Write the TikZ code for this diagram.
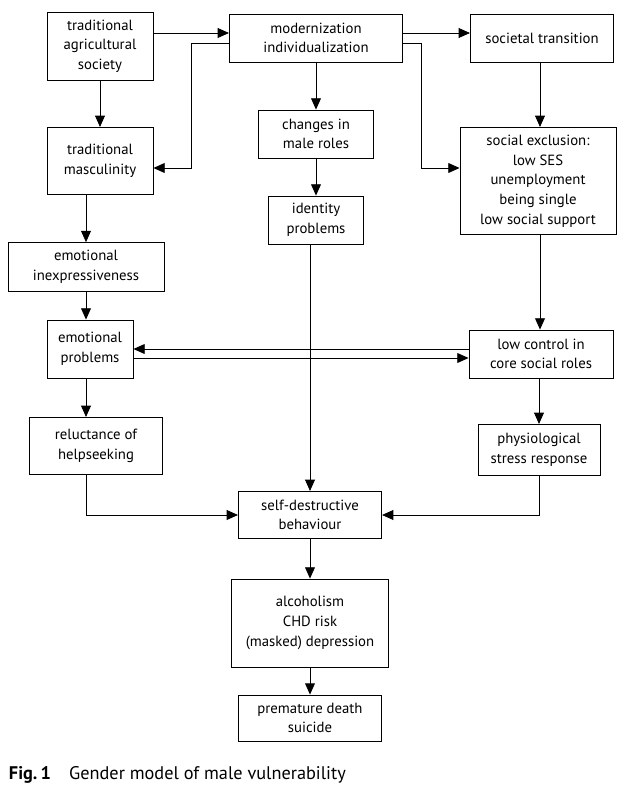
\documentclass[tikz,border=0pt]{standalone}
\usepackage{fontspec}
\setmainfont{PT Sans}
\usetikzlibrary{arrows.meta}
\begin{document}
\begin{tikzpicture}[
    x=0.025cm, y=-0.025cm,
    box/.style={rectangle, draw, line width=0.6pt, align=center, font=\fontsize{10.5}{14}\selectfont, inner sep=2pt},
    arrow/.style={-{Triangle[length=8pt, width=7pt]}, line width=0.6pt}
]
\useasboundingbox (0,0) rectangle (641,795);
% Top row
\node[box, minimum width=2.65cm, minimum height=1.7cm] (agri) at (100,46) {traditional\\agricultural\\society};
\node[box, minimum width=4.33cm, minimum height=1.2cm] (modern) at (316,38) {modernization\\individualization};
\node[box, minimum width=3.58cm, minimum height=1.2cm] (trans) at (542,38) {societal transition};

% Second level
\node[box, minimum width=2.88cm, minimum height=1.2cm] (roles) at (316,134) {changes in\\male roles};
\node[box, minimum width=2.65cm, minimum height=1.68cm] (masc) at (100,161) {traditional\\masculinity};
\node[box, minimum width=3.9cm, minimum height=2.68cm] (excl) at (538,181) {social exclusion:\\low SES\\unemployment\\being single\\low social support};
\node[box, minimum width=2.38cm, minimum height=1.2cm] (ident) at (316,220) {identity\\problems};
\node[box, minimum width=3.9cm, minimum height=1.22cm] (inexp) at (86,267) {emotional\\inexpressiveness};

% Middle
\node[box, minimum width=2.15cm, minimum height=1.45cm] (emo) at (90,349) {emotional\\problems};
\node[box, minimum width=3.6cm, minimum height=1.2cm] (control) at (541,354) {low control in\\core social roles};
\node[box, minimum width=3.33cm, minimum height=1.43cm] (help) at (96,446) {reluctance of\\helpseeking};
\node[box, minimum width=3.05cm, minimum height=1.28cm] (stress) at (539,450) {physiological\\stress response};

% Bottom
\node[box, minimum width=3.58cm, minimum height=1.18cm] (self) at (310,515) {self-destructive\\behaviour};
\node[box, minimum width=3.93cm, minimum height=2.2cm] (alc) at (310,623) {alcoholism\\CHD risk\\(masked) depression};
\node[box, minimum width=3.58cm, minimum height=1.15cm] (death) at (310,718) {premature death\\suicide};

% Caption
\node[anchor=west, font=\fontsize{13}{15}\selectfont] (cap) at (4,775) {\textbf{Fig.\,1}\quad Gender model of male vulnerability};

% Arrows
\draw[arrow] (agri.east |- 0,33) -- (modern.west |- 0,33);
\draw[arrow] (modern.east |- 0,33) -- (trans.west |- 0,33);
\draw[arrow] (modern.west |- 0,43) -| (191,168) -- (masc.east |- 0,168);
\draw[arrow] (modern.east |- 0,43) -| (421,168) -- (excl.west |- 0,168);
\draw[arrow] (agri) -- (masc);
\draw[arrow] (modern) -- (roles);
\draw[arrow] (roles) -- (ident);
\draw[arrow] (ident.south -| 310,0) -- (self.north -| 310,0);
\draw[arrow] (trans.south -| 540,0) -- (excl.north -| 540,0);
\draw[arrow] (masc.south -| 86,0) -- (inexp.north -| 86,0);
\draw[arrow] (inexp.south -| 86,0) -- (emo.north -| 86,0);
\draw[arrow] (excl.south -| 540,0) -- (control.north -| 540,0);
\draw[arrow] (control.west |- 0,349) -- (emo.east |- 0,349);
\draw[arrow] (emo.east |- 0,358) -- (control.west |- 0,358);
\draw[arrow] (emo.south -| 86,0) -- (help.north -| 86,0);
\draw[arrow] (control.south -| 539,0) -- (stress.north -| 539,0);
\draw[arrow] (help.south -| 86,0) |- (self.west);
\draw[arrow] (stress.south -| 539,0) |- (self.east);
\draw[arrow] (self) -- (alc);
\draw[arrow] (alc) -- (death);
\end{tikzpicture}
\end{document}
